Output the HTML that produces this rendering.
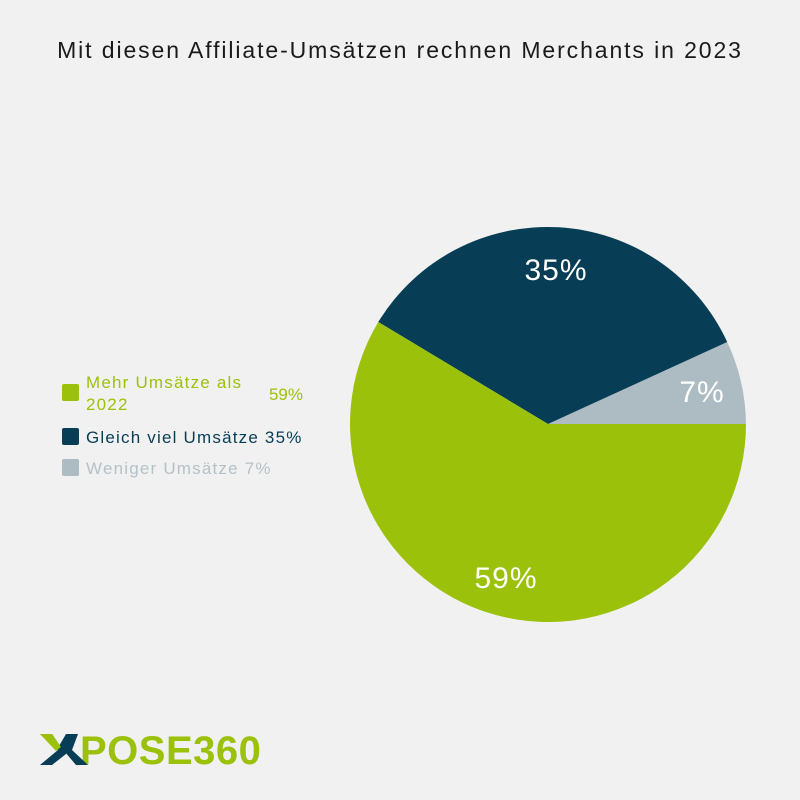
<!DOCTYPE html>
<html><head><meta charset="utf-8"><style>
body{margin:0;background:#f1f1f1;}
svg{display:block}
</style></head><body>
<svg width="800" height="800" viewBox="0 0 800 800" xmlns="http://www.w3.org/2000/svg" font-family="Liberation Sans, sans-serif">
<rect width="800" height="800" fill="#f1f1f1"/>
<text x="400" y="58" text-anchor="middle" font-size="23" letter-spacing="1.9" fill="#1a1a1a">Mit diesen Affiliate-Umsätzen rechnen Merchants in 2023</text>
<path d="M548,424 L746,424 A198,198 0 0 0 727.2,342 Z" fill="#adbcc3"/>
<path d="M548,424 L727.2,342 A198,198 0 0 0 378.3,322 Z" fill="#073d55"/>
<path d="M548,424 L378.3,322 A198,198 0 1 0 746,424 Z" fill="#9cc10a"/>
<text x="556" y="280" text-anchor="middle" font-size="30" letter-spacing="1" fill="#fff">35%</text>
<text x="702" y="402" text-anchor="middle" font-size="30" letter-spacing="1" fill="#fff">7%</text>
<text x="506" y="588" text-anchor="middle" font-size="30" letter-spacing="1" fill="#fff">59%</text>
<rect x="62" y="384" width="17" height="17" rx="2" fill="#9cc10a"/>
<text x="86" y="388" font-size="17" letter-spacing="1.2" fill="#9cc10a">Mehr Umsätze als</text>
<text x="86" y="410" font-size="17" letter-spacing="1.2" fill="#9cc10a">2022</text>
<text x="303" y="400" text-anchor="end" font-size="17" fill="#9cc10a">59%</text>
<rect x="62" y="428" width="17" height="17" rx="2" fill="#073d55"/>
<text x="86" y="443" font-size="17" letter-spacing="1.2" fill="#073d55">Gleich viel Umsätze 35%</text>
<rect x="62" y="459" width="17" height="17" rx="2" fill="#adbcc3"/>
<text x="86" y="474" font-size="17" letter-spacing="1.2" fill="#b4c2c8">Weniger Umsätze 7%</text>
<text x="80" y="764" font-size="40" font-weight="bold" fill="#9cc10a" letter-spacing="0.5">POSE360</text>
<path d="M40,734 L52,734 L60,746 L66,746 L66,754 L52,765 L40,765 L58,750 Z" fill="#073d55"/>
<path d="M78,734 L66,734 L59,746 L65,752 L76,765 L88,765 L72,750 Z" fill="#073d55"/>
<path d="M40,734 L52,734 L61,747 L56,751 Z" fill="#9cc10a"/>
</svg>
</body></html>
